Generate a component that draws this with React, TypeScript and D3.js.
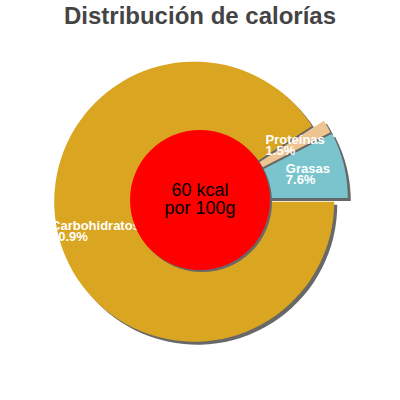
import { useMemo } from 'react';
import * as d3 from 'd3';

const categories = ['Grasas', 'Proteínas', 'Carbohidratos'];
const percents = [7.6, 1.5, 90.9];
const colors = ['#7AC5CD', '#EEC591', '#DAA520'];
const centerLines = ['60 kcal', 'por 100g'];
const title = 'Distribución de calorías';

const width = 400;
const height = 400;
const cx = 200;
const cy = 200;
const radius = 140;
const holeRadius = 70;
const explode = [8, 7, 6];
const labelRadius = 103;
const font = '"Liberation Sans", Arial, sans-serif';

interface Slice {
  name: string;
  value: number;
}

const measure = (text: string, size: number) => {
  const ctx = document.createElement('canvas').getContext('2d');
  if (!ctx) return text.length * size * 0.6;
  ctx.font = `bold ${size}px "Liberation Sans", Arial, sans-serif`;
  return ctx.measureText(text).width;
};

const App = () => {
  const data: Slice[] = categories.map((name, i) => ({ name, value: percents[i] }));

  // start at 3 o'clock and go counter-clockwise
  const arcs = d3.pie<Slice>()
    .value((d) => d.value)
    .sort(null)
    .startAngle(Math.PI / 2)
    .endAngle(Math.PI / 2 - 2 * Math.PI)(data);

  const arcGen = d3.arc<d3.PieArcDatum<Slice>>().innerRadius(0).outerRadius(radius);
  const labelArc = d3.arc<d3.PieArcDatum<Slice>>().innerRadius(labelRadius).outerRadius(labelRadius);

  const shift = (a: d3.PieArcDatum<Slice>, i: number) => {
    const mid = (a.startAngle + a.endAngle) / 2;
    return [Math.sin(mid) * explode[i], -Math.cos(mid) * explode[i]];
  };

  const widths = useMemo(
    () => data.map((d) => Math.max(measure(d.name, 13), measure(`${d.value}%`, 13))),
    []
  );

  return (
    <svg width={width} height={height} style={{ position: 'absolute', left: 0, top: 0 }}>
      <rect width={width} height={height} fill="#fff" />
      <text x={cx} y={24} textAnchor="middle" fontFamily={font} fontSize={24} fontWeight="bold" fill="#444">
        {title}
      </text>
      <g transform={`translate(${cx},${cy})`}>
        {arcs.map((a, i) => {
          const [dx, dy] = shift(a, i);
          return (
            <path key={`s${i}`} d={arcGen(a) ?? ''} transform={`translate(${dx + 3},${dy + 3})`} fill="#686868" />
          );
        })}
        {arcs.map((a, i) => {
          const [dx, dy] = shift(a, i);
          return (
            <path key={`p${i}`} d={arcGen(a) ?? ''} transform={`translate(${dx},${dy})`} fill={colors[i]} />
          );
        })}
        {arcs.map((a, i) => {
          const [dx, dy] = shift(a, i);
          const [lx, ly] = labelArc.centroid(a);
          const x = lx + dx - widths[i] / 2;
          const y = ly + dy;
          return (
            <text key={`l${i}`} fontFamily={font} fontSize={13} fontWeight="bold" fill="#fff">
              <tspan x={x} y={y - 1}>{a.data.name}</tspan>
              <tspan x={x} y={y + 10}>{`${a.data.value}%`}</tspan>
            </text>
          );
        })}
        <circle cx={2} cy={2} r={holeRadius} fill="#686868" />
        <circle r={holeRadius} fill="#FF0000" />
        <text fontFamily={font} fontSize={18} fill="#000" textAnchor="middle">
          <tspan x={0} y={-4}>{centerLines[0]}</tspan>
          <tspan x={0} y={14}>{centerLines[1]}</tspan>
        </text>
      </g>
    </svg>
  );
};

export default App;
